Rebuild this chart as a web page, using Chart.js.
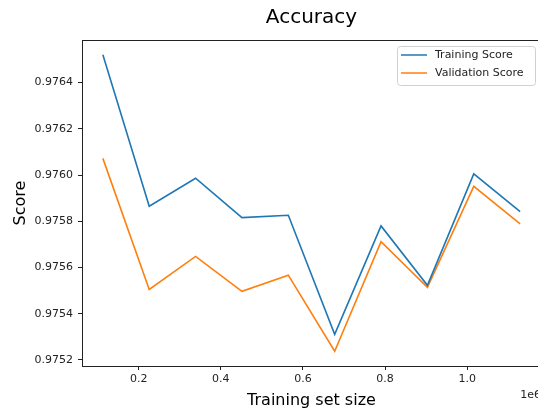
<!DOCTYPE html>
<html>
<head>
<meta charset="utf-8">
<script src="https://cdn.jsdelivr.net/npm/chart.js@4.4.1/dist/chart.umd.min.js"></script>
<style>
  html, body { margin: 0; padding: 0; overflow: hidden; background: #fff; }
</style>
</head>
<body>
<canvas id="accuracyChart" width="623" height="410"></canvas>
<script>
const trainSizes = [112900, 225800, 338700, 451600, 564500, 677400, 790300, 903200, 1016100, 1129000];
const trainingScore = [0.97652, 0.975865, 0.975986, 0.975816, 0.975826, 0.975311, 0.97578, 0.975523, 0.976005, 0.975842];
const validationScore = [0.976072, 0.975505, 0.975648, 0.975497, 0.975567, 0.975238, 0.975712, 0.975514, 0.975951, 0.975789];
const xTicks = [200000, 400000, 600000, 800000, 1000000];
const yTicks = [0.9752, 0.9754, 0.9756, 0.9758, 0.9760, 0.9762, 0.9764];

const FONT = "'DejaVu Sans', sans-serif";

function toPoints(ys) {
    return trainSizes.map((x, i) => ({ x: x, y: ys[i] }));
}

// box, legend and the "1e6" offset label, matplotlib style
const extrasPlugin = {
    id: 'extras',
    afterDraw(chart) {
        const ctx = chart.ctx;
        const a = chart.chartArea;
        ctx.save();
        ctx.strokeStyle = '#222';
        ctx.lineWidth = 1;
        ctx.strokeRect(Math.round(a.left) + 0.5, Math.round(a.top) + 0.5,
            Math.round(a.right - a.left), Math.round(a.bottom - a.top));

        // offset text
        ctx.fillStyle = '#222';
        ctx.font = '11px ' + FONT;
        ctx.textAlign = 'right';
        ctx.textBaseline = 'middle';
        ctx.fillText('1e6', a.right, 395);

        // legend
        const lx = 397, ly = 46, lw = 138, lh = 39;
        ctx.beginPath();
        ctx.roundRect(lx + 0.5, ly + 0.5, lw, lh, 3);
        ctx.fillStyle = 'rgba(255,255,255,0.8)';
        ctx.fill();
        ctx.strokeStyle = '#d0d0d0';
        ctx.stroke();
        ctx.textAlign = 'left';
        chart.data.datasets.forEach((ds, i) => {
            const y = 55 + i * 18;
            ctx.strokeStyle = ds.borderColor;
            ctx.lineWidth = 1.5;
            ctx.beginPath();
            ctx.moveTo(401, y);
            ctx.lineTo(427, y);
            ctx.stroke();
            ctx.fillStyle = '#222';
            ctx.fillText(ds.label, 435, y);
        });
        ctx.restore();
    }
};

new Chart(document.getElementById('accuracyChart').getContext('2d'), {
    type: 'line',
    data: {
        datasets: [{
            label: 'Training Score',
            data: toPoints(trainingScore),
            borderColor: '#1f77b4',
            borderWidth: 1.6,
            pointRadius: 0,
            tension: 0
        }, {
            label: 'Validation Score',
            data: toPoints(validationScore),
            borderColor: '#ff7f0e',
            borderWidth: 1.6,
            pointRadius: 0,
            tension: 0
        }]
    },
    options: {
        responsive: false,
        animation: false,
        layout: { padding: { left: 0, right: 82, top: 0, bottom: 0 } },
        plugins: {
            legend: { display: false },
            tooltip: { enabled: false },
            title: {
                display: true,
                fullSize: false,
                text: 'Accuracy',
                color: '#000',
                font: { family: FONT, size: 20, weight: 'normal' },
                padding: { top: 5.5, bottom: 10.5 }
            }
        },
        scales: {
            x: {
                type: 'linear',
                min: 62100,
                max: 1179800,
                afterFit(scale) { scale.height = 44; },
                afterBuildTicks(scale) { scale.ticks = xTicks.map(v => ({ value: v })); },
                grid: { drawOnChartArea: false, drawTicks: true, tickLength: 4, tickColor: '#222' },
                border: { display: true, color: '#222', width: 1 },
                ticks: {
                    color: '#222',
                    padding: 3,
                    maxRotation: 0,
                    font: { family: FONT, size: 11 },
                    callback: v => (v / 1e6).toFixed(1)
                },
                title: {
                    display: true,
                    text: 'Training set size',
                    color: '#000',
                    font: { family: FONT, size: 16 },
                    padding: { top: 2.4, bottom: 0 }
                }
            },
            y: {
                min: 0.975174,
                max: 0.976584,
                afterFit(scale) { scale.width = 82; },
                afterBuildTicks(scale) { scale.ticks = yTicks.map(v => ({ value: v })); },
                grid: { drawOnChartArea: false, drawTicks: true, tickLength: 4, tickColor: '#222' },
                border: { display: true, color: '#222', width: 1 },
                ticks: {
                    color: '#222',
                    padding: 5,
                    font: { family: FONT, size: 11 },
                    callback: v => v.toFixed(4)
                },
                title: {
                    display: true,
                    text: 'Score',
                    color: '#000',
                    font: { family: FONT, size: 16 },
                    padding: { top: 11, bottom: 0 }
                }
            }
        }
    },
    plugins: [extrasPlugin]
});
</script>
</body>
</html>
